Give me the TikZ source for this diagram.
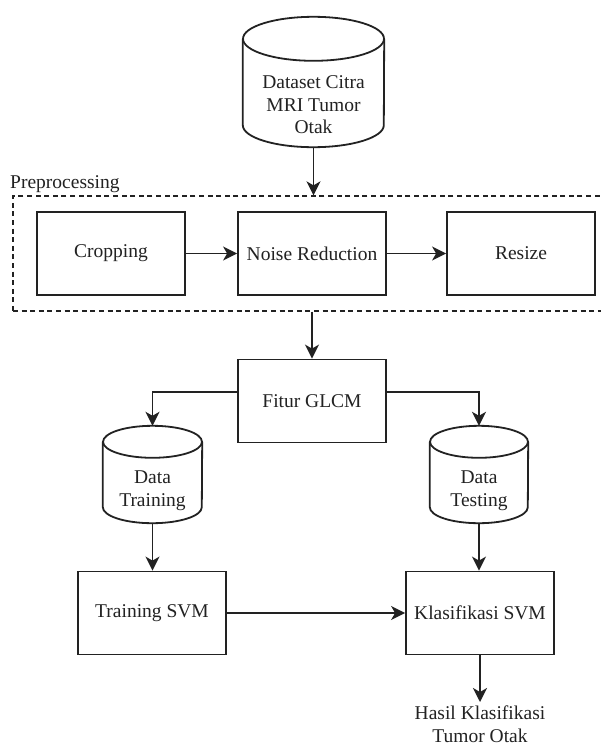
\documentclass[tikz,border=0pt]{standalone}
\usepackage{fontspec}
\setmainfont{Liberation Serif}
\usetikzlibrary{arrows.meta}
\definecolor{ink}{HTML}{222222}
\tikzset{
  every node/.style={text=ink},
  txt/.style={font=\fontsize{19.5}{22.5}\selectfont, align=center},
  procbox/.style={draw=ink, line width=1.8pt, minimum width=148pt, minimum height=83pt, txt},
  cylbox/.style={draw=none, inner sep=0pt},
  cylline/.style={draw=ink, line width=1.8pt},
  arr/.style={draw=ink, line width=1.8pt, -{Stealth[length=14pt,width=14pt,inset=4pt]}},
  prebox/.style={draw=ink, line width=1.3pt, dash pattern=on 5pt off 3.6pt, inner sep=0pt},
}
% cylinder: name, rx, ry
\newcommand\drawcyl[3]{%
  \draw[cylline] ([yshift=-#3]#1.north west) -- ([yshift=#3]#1.south west)
     arc[start angle=180, end angle=360, x radius=#2, y radius=#3]
     -- ([yshift=-#3]#1.north east);
  \draw[cylline] ([yshift=-#3]#1.north) ellipse[x radius=#2, y radius=#3];
}
\begin{document}
\begin{tikzpicture}[x=1pt,y=-1pt]
\useasboundingbox (0,0) rectangle (600,747);
\fill[white] (0,0) rectangle (600,747);

% top database
\node[cylbox, minimum width=141pt, minimum height=130pt] (ds) at (313.5,82) {};
\drawcyl{ds}{70.5pt}{22pt}
\node[txt] (dsT) at ([yshift=-23pt]ds.center) {Dataset Citra\\MRI Tumor\\Otak};

% preprocessing group
\node[prebox, minimum width=597pt, minimum height=115pt] (pre) at (311.5,253.5) {};
\node[txt, anchor=base west, inner sep=0pt] (preL) at (10,188) {Preprocessing};

\node[procbox] (crop) at (111,253.5) {Cropping};
\node[procbox] (noise) at (312,253.5) {Noise Reduction};
\node[procbox] (resize) at (521,253.5) {Resize};

\node[procbox] (glcm) at (312,401) {Fitur GLCM};

% data cylinders
\node[cylbox, minimum width=99pt, minimum height=97pt] (dtr) at (152.5,474.5) {};
\drawcyl{dtr}{49.5pt}{16pt}
\node[txt] (dtrT) at ([yshift=-16pt]dtr.center) {Data\\Training};

\node[cylbox, minimum width=98pt, minimum height=97pt] (dte) at (479,474.5) {};
\drawcyl{dte}{49pt}{16pt}
\node[txt] (dteT) at ([yshift=-16pt]dte.center) {Data\\Testing};

\node[procbox] (tsvm) at (152,613) {Training SVM};
\node[procbox] (ksvm) at (480,613) {Klasifikasi SVM};

\node[txt, anchor=north, inner xsep=0pt, inner ysep=4pt] (hasil) at (480,702) {Hasil Klasifikasi\\Tumor Otak};

% connectors
\draw[arr] (ds.south) -- (ds.south |- pre.north);
\draw[arr] (crop) -- (noise);
\draw[arr] (noise) -- (resize);
\draw[arr] (glcm.north |- pre.south) -- (glcm.north);
\draw[arr] ([yshift=9pt]glcm.west) -| (dtr.north);
\draw[arr] ([yshift=9pt]glcm.east) -| (dte.north);
\draw[arr] (dtr.south) -- (tsvm.north -| dtr.south);
\draw[arr] (dte.south) -- (ksvm.north -| dte.south);
\draw[arr] (tsvm) -- (ksvm);
\draw[arr] (ksvm.south) -- (hasil.north);
\end{tikzpicture}
\end{document}
